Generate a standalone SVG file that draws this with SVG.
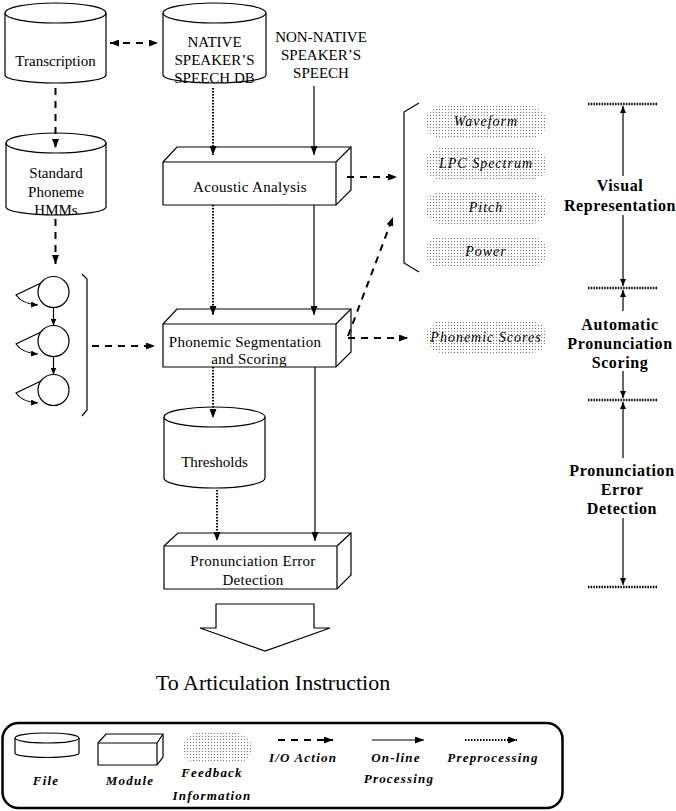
<svg xmlns="http://www.w3.org/2000/svg" width="676" height="811" viewBox="0 0 676 811">
<style>
.ln{fill:none;stroke:#000;stroke-width:1.2}
.sh{fill:#fff;stroke:#000;stroke-width:1.2}
.da{fill:none;stroke:#000;stroke-width:2;stroke-dasharray:7,6}
.do{fill:none;stroke:#000;stroke-width:2;stroke-dasharray:1.5,1.5}
.so{fill:none;stroke:#000;stroke-width:1.2}
.t{font-family:"Liberation Serif","Times New Roman",serif;font-size:15px;text-anchor:middle;fill:#000}
.tb{font-family:"Liberation Serif","Times New Roman",serif;font-size:16px;font-weight:bold;letter-spacing:0.6px;text-anchor:middle;fill:#000}
.ti{font-family:"Liberation Serif","Times New Roman",serif;font-size:14px;font-style:italic;letter-spacing:1px;text-anchor:middle;fill:#000}
.tl{font-family:"Liberation Serif","Times New Roman",serif;font-size:13px;font-style:italic;font-weight:bold;letter-spacing:1.2px;text-anchor:middle;fill:#000}
.blob{fill:url(#dots);stroke:none}
.bar{fill:none;stroke:#000;stroke-width:2.5;stroke-dasharray:1.5,1.2}
</style>
<defs>
<marker id="ah" markerWidth="9" markerHeight="7" refX="9" refY="3.5" orient="auto-start-reverse" markerUnits="userSpaceOnUse"><path d="M0,0 L9,3.5 L0,7 z" fill="#000"/></marker>
<marker id="as" markerWidth="7" markerHeight="6" refX="7" refY="3" orient="auto-start-reverse" markerUnits="userSpaceOnUse"><path d="M0,0 L7,3 L0,6 z" fill="#000"/></marker>
<pattern id="dots" width="3" height="3" patternUnits="userSpaceOnUse"><rect x="1" y="1" width="1" height="1" fill="#777"/></pattern>
</defs>
<rect width="676" height="811" fill="#fff"/>

<g id="transcription">
<path class="sh" d="M5,13 V75 A50.5,8 0 0 0 106,75 V13"/>
<ellipse class="sh" cx="55.5" cy="13" rx="50.5" ry="10"/>
<text class="t" x="55.5" y="66">Transcription</text>
</g>

<g id="native-db">
<path class="sh" d="M163,13 V75 A51.5,8 0 0 0 266,75 V13"/>
<ellipse class="sh" cx="214.5" cy="13" rx="51.5" ry="10"/>
<text class="t" x="214.5" y="47">NATIVE</text>
<text class="t" x="214.5" y="65">SPEAKER’S</text>
<text class="t" x="214.5" y="83">SPEECH DB</text>
</g>

<g id="non-native">
<text class="t" x="321" y="42">NON-NATIVE</text>
<text class="t" x="321" y="60">SPEAKER’S</text>
<text class="t" x="321" y="78">SPEECH</text>
</g>

<g id="standard-hmms">
<path class="sh" d="M6,143 V207 A50,8 0 0 0 106,207 V143"/>
<ellipse class="sh" cx="56" cy="143" rx="50" ry="10"/>
<text class="t" x="56" y="178">Standard</text>
<text class="t" x="56" y="197">Phoneme</text>
<text class="t" x="56" y="215">HMMs</text>
</g>

<g id="hmm">
<circle class="ln" cx="53.5" cy="292" r="15.5"/>
<circle class="ln" cx="53.5" cy="341" r="15.5"/>
<circle class="ln" cx="53.5" cy="390" r="15.5"/>
<path class="ln" d="M41,283 L16,295 Q22,304 38,305" marker-end="url(#as)"/>
<path class="ln" d="M41,332 L16,344 Q22,353 38,354" marker-end="url(#as)"/>
<path class="ln" d="M41,381 L16,393 Q22,402 38,403" marker-end="url(#as)"/>
<line class="ln" x1="53.5" y1="307.5" x2="53.5" y2="325.5" marker-end="url(#as)"/>
<line class="ln" x1="53.5" y1="356.5" x2="53.5" y2="374.5" marker-end="url(#as)"/>
<path class="ln" d="M82,274 L87,279 V410 L82,416"/>
</g>

<g id="acoustic">
<path class="sh" d="M163,162 L177,147 H351 V190 L336,205 H163 Z"/>
<path class="ln" d="M336,162 L351,147 M163,162 H336 V205"/>
<text class="t" x="250" y="192" style="letter-spacing:0.3px">Acoustic Analysis</text>
</g>

<g id="phonemic">
<path class="sh" d="M163,324 L177,309 H351 V352 L336,367 H163 Z"/>
<path class="ln" d="M336,324 L351,309 M163,324 H336 V367"/>
<text class="t" x="245" y="347" style="letter-spacing:0.3px">Phonemic Segmentation</text>
<text class="t" x="249" y="364" style="letter-spacing:0.3px">and Scoring</text>
</g>

<g id="thresholds">
<path class="sh" d="M164,417 V478 A50.5,10 0 0 0 265,478 V417"/>
<ellipse class="sh" cx="214.5" cy="417" rx="50.5" ry="10"/>
<text class="t" x="214.5" y="467">Thresholds</text>
</g>

<g id="ped">
<path class="sh" d="M164,546 L178,533 H351 V575 L337,589 H164 Z"/>
<path class="ln" d="M337,546 L351,533 M164,546 H337 V589"/>
<text class="t" x="253" y="566" style="letter-spacing:0.3px">Pronunciation Error</text>
<text class="t" x="253" y="585" style="letter-spacing:0.3px">Detection</text>
</g>

<g id="output-arrow">
<path class="sh" d="M216,604 H314 V628 H330 L265,651 L200,628 H216 Z"/>
<text x="273" y="690" style="font-family:'Liberation Serif','Times New Roman',serif;font-size:22px;text-anchor:middle">To Articulation Instruction</text>
</g>

<g id="feedback">
<path class="ln" d="M419,103 L404,112 V263 L419,272"/>
<rect class="blob" x="425" y="106" width="122" height="32" rx="16" ry="16"/>
<text class="ti" x="486" y="126">Waveform</text>
<rect class="blob" x="425" y="148" width="122" height="32" rx="16" ry="16"/>
<text class="ti" x="486" y="168">LPC Spectrum</text>
<rect class="blob" x="425" y="192" width="122" height="32" rx="16" ry="16"/>
<text class="ti" x="486" y="212">Pitch</text>
<rect class="blob" x="425" y="236" width="122" height="32" rx="16" ry="16"/>
<text class="ti" x="486" y="256">Power</text>
</g>

<g id="phonemic-scores">
<rect class="blob" x="426" y="321" width="121" height="32" rx="16" ry="16"/>
<text class="ti" x="486" y="342">Phonemic Scores</text>
</g>

<g id="scale">
<line class="bar" x1="588" y1="104" x2="658" y2="104"/>
<line class="bar" x1="588" y1="288" x2="658" y2="288"/>
<line class="bar" x1="588" y1="400" x2="658" y2="400"/>
<line class="bar" x1="588" y1="587" x2="658" y2="587"/>
<line class="ln" x1="623" y1="176" x2="623" y2="106" marker-end="url(#as)"/>
<line class="ln" x1="623" y1="215" x2="623" y2="286" marker-end="url(#as)"/>
<line class="ln" x1="623" y1="311" x2="623" y2="290" marker-end="url(#as)"/>
<line class="ln" x1="623" y1="371" x2="623" y2="398" marker-end="url(#as)"/>
<line class="ln" x1="623" y1="458" x2="623" y2="402" marker-end="url(#as)"/>
<line class="ln" x1="623" y1="518" x2="623" y2="585" marker-end="url(#as)"/>
<text class="tb" x="620" y="191">Visual</text>
<text class="tb" x="620" y="211">Representation</text>
<text class="tb" x="620" y="330">Automatic</text>
<text class="tb" x="620" y="349">Pronunciation</text>
<text class="tb" x="620" y="368">Scoring</text>
<text class="tb" x="622" y="476">Pronunciation</text>
<text class="tb" x="622" y="495">Error</text>
<text class="tb" x="622" y="514">Detection</text>
</g>

<g id="connectors">
<line class="da" x1="110" y1="43" x2="158" y2="43" marker-start="url(#ah)" marker-end="url(#ah)"/>
<line class="da" x1="55.5" y1="88" x2="55.5" y2="148" marker-end="url(#ah)"/>
<line class="da" x1="55.5" y1="219" x2="55.5" y2="264" marker-end="url(#ah)"/>
<line class="do" x1="213" y1="88" x2="213" y2="155" marker-end="url(#ah)"/>
<line class="so" x1="314" y1="86" x2="314" y2="155" marker-end="url(#ah)"/>
<line class="do" x1="213" y1="205" x2="213" y2="315" marker-end="url(#ah)"/>
<line class="so" x1="314" y1="205" x2="314" y2="315" marker-end="url(#ah)"/>
<line class="da" x1="347" y1="177" x2="397" y2="177" marker-end="url(#ah)"/>
<line class="da" x1="92" y1="346" x2="155" y2="346" marker-end="url(#ah)"/>
<line class="da" x1="348" y1="338" x2="408" y2="338" marker-end="url(#ah)"/>
<line class="da" x1="348" y1="336" x2="393" y2="217" marker-end="url(#ah)"/>
<line class="do" x1="213" y1="367" x2="213" y2="418" marker-end="url(#ah)"/>
<line class="do" x1="217" y1="490" x2="217" y2="541" marker-end="url(#ah)"/>
<line class="so" x1="315" y1="367" x2="315" y2="541" marker-end="url(#ah)"/>
</g>

<g id="legend">
<rect x="2.5" y="723" width="560" height="85" rx="16" ry="16" fill="none" stroke="#000" stroke-width="2.5"/>
<path class="sh" d="M15,738 V753 A32,4.5 0 0 0 79,753 V738"/>
<ellipse class="sh" cx="47" cy="738" rx="32" ry="5"/>
<text class="tl" x="46" y="785">File</text>
<path class="sh" d="M98,743 L106,734 H163 V757 L157,765 H98 Z"/>
<path class="ln" d="M157,743 L163,734 M98,743 H157 V765"/>
<text class="tl" x="130" y="785">Module</text>
<rect class="blob" x="183" y="733" width="69" height="30" rx="15" ry="15"/>
<text class="tl" x="212" y="777">Feedback</text>
<text class="tl" x="212" y="800">Information</text>
<line class="da" x1="278" y1="740" x2="333" y2="740" marker-end="url(#ah)"/>
<text class="tl" x="303" y="762">I/O Action</text>
<line class="so" x1="372" y1="740" x2="424" y2="740" marker-end="url(#ah)"/>
<text class="tl" x="396" y="762">On-line</text>
<text class="tl" x="399" y="783">Processing</text>
<line class="do" x1="465" y1="740" x2="517" y2="740" marker-end="url(#ah)"/>
<text class="tl" x="493" y="762">Preprocessing</text>
</g>
</svg>
